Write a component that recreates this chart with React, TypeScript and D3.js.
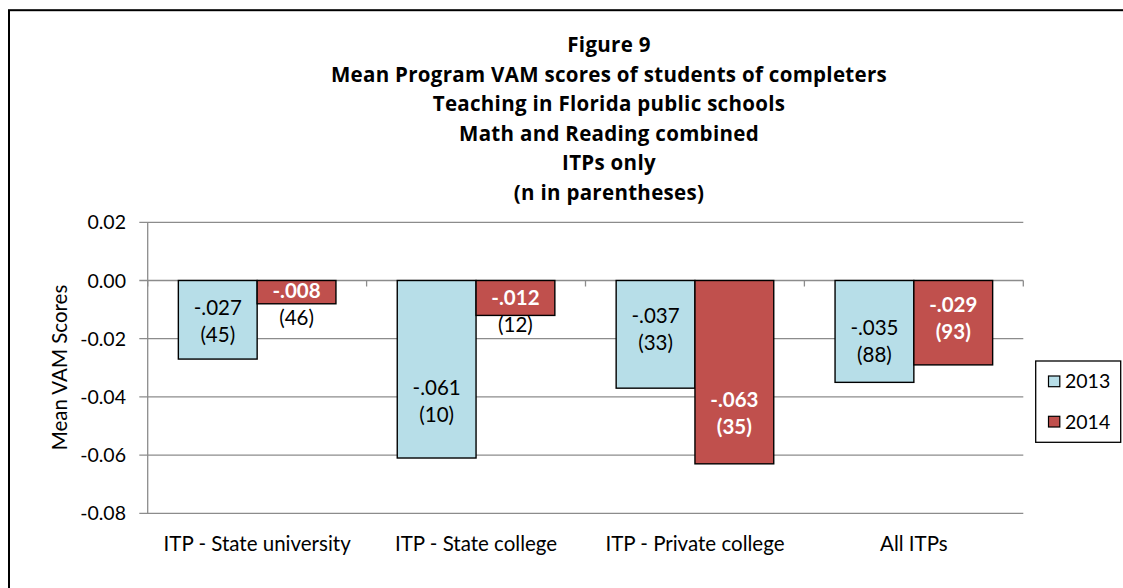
import React from "react";
import * as d3 from "d3";

const titleLines = [
  "Figure 9",
  "Mean Program VAM scores of students of completers",
  "Teaching in Florida public schools",
  "Math and Reading combined",
  "ITPs only",
  "(n in parentheses)",
];
const categories = ["ITP - State university", "ITP - State college", "ITP - Private college", "All ITPs"];
const seriesNames = ["2013", "2014"];
const values2013 = [-0.027, -0.061, -0.037, -0.035];
const values2014 = [-0.008, -0.012, -0.063, -0.029];
const n2013 = [45, 10, 33, 88];
const n2014 = [46, 12, 35, 93];
// value at which the first label line's baseline sits
const labelAt2013 = [-0.0119, -0.0393, -0.0146, -0.0187];
const labelAt2014 = [-0.006, -0.0084, -0.0434, -0.0107];
const yTicks = [0.02, 0, -0.02, -0.04, -0.06, -0.08];
const yTitle = "Mean VAM Scores";

const COLORS = ["#B7DEE8", "#C0504D"];
const FONT = "Lato, 'Open Sans', sans-serif";
const TITLE_FONT = "'Open Sans', Lato, sans-serif";

const locale = d3.formatLocale({ decimal: ".", thousands: ",", grouping: [3], currency: ["$", ""], minus: "-" });
const fmtTick = locale.format(".2f");
const fmtVal = (v: number) => locale.format(".3f")(v).replace("0.", ".");

export default function App() {
  const W = 1123, H = 588;
  const x0 = 147.7, x1 = 1023.3;
  const y = d3.scaleLinear().domain([-0.08, 0.02]).range([513.3, 222.3]);
  const xb = d3.scaleBand<string>().domain(categories).range([x0, x1]).padding(0);
  const xs = d3.scaleBand<string>().domain(seriesNames).range([0, xb.bandwidth()]).paddingInner(0).paddingOuter(0.389);
  const series = [
    { name: seriesNames[0], values: values2013, n: n2013, at: labelAt2013, color: COLORS[0] },
    { name: seriesNames[1], values: values2014, n: n2014, at: labelAt2014, color: COLORS[1] },
  ];
  const y0 = y(0);
  const boundaries = d3.range(categories.length + 1).map((i) => x0 + i * xb.step());

  return (
    <svg width={W} height={H} style={{ position: "absolute", left: 0, top: 0, background: "#fff" }} fontFamily={FONT}>
      <rect x={0} y={0} width={W} height={H} fill="#fff" />
      <rect x={9} y={10.2} width={1300} height={700} fill="none" stroke="#000" strokeWidth={2} />
      {titleLines.map((t, i) => (
        <text key={i} x={609} y={52 + i * 29.5} textAnchor="middle" fontWeight="bold" fontSize={20.5}
          letterSpacing={0.3} fontFamily={TITLE_FONT} fill="#000">
          {t}
        </text>
      ))}
      {/* gridlines */}
      {yTicks.map((t) => (
        <g key={t}>
          <line x1={139.3} x2={x1} y1={y(t)} y2={y(t)} stroke="#8c8c8c" strokeWidth={1.3} />
          <text x={126} y={y(t) + 7} textAnchor="end" fontSize={19.5} fill="#000">
            {fmtTick(t)}
          </text>
        </g>
      ))}
      <line x1={x0} x2={x0} y1={y(0.02)} y2={y(-0.08)} stroke="#8c8c8c" strokeWidth={1.3} />
      {boundaries.map((bx, i) => (
        <line key={i} x1={bx} x2={bx} y1={y0} y2={y0 + 6} stroke="#8c8c8c" strokeWidth={1.3} />
      ))}
      {/* bars */}
      {categories.map((c, ci) =>
        series.map((s) => {
          const bx = (xb(c) as number) + (xs(s.name) as number);
          const v = s.values[ci];
          return (
            <rect key={c + s.name} x={bx} y={Math.min(y(v), y0)} width={xs.bandwidth()} height={Math.abs(y(v) - y0)}
              fill={s.color} stroke="#000" strokeWidth={1.4} />
          );
        })
      )}
      {/* labels */}
      {categories.map((c, ci) =>
        series.map((s, si) => {
          const cx = (xb(c) as number) + (xs(s.name) as number) + xs.bandwidth() / 2;
          const b1 = y(s.at[ci]);
          const b2 = b1 + 27;
          const bottom = y(s.values[ci]);
          const lines = [fmtVal(s.values[ci]), `(${s.n[ci]})`];
          return lines.map((t, li) => {
            const by = li === 0 ? b1 : b2;
            const inside = by - 4 < bottom;
            const white = si === 1 && inside;
            return (
              <text key={c + s.name + li} x={cx} y={by} textAnchor="middle" fontSize={20.5}
                fill={white ? "#fff" : "#000"} fontWeight={white ? "bold" : "normal"}>
                {t}
              </text>
            );
          });
        })
      )}
      {/* x labels */}
      {categories.map((c) => (
        <text key={c} x={(xb(c) as number) + xb.bandwidth() / 2} y={550.5} textAnchor="middle" fontSize={20.5} fill="#000">
          {c}
        </text>
      ))}
      {/* y title */}
      <text transform={`translate(67,${(285 + 450) / 2}) rotate(-90)`} textAnchor="middle" fontSize={20.5} fill="#000">
        {yTitle}
      </text>
      {/* legend */}
      <rect x={1035.7} y={361} width={85} height={81.3} fill="#fff" stroke="#000" strokeWidth={1.3} />
      {series.map((s, i) => (
        <g key={s.name}>
          <rect x={1048.5} y={376 + i * 40.3} width={11.3} height={10.7} fill={s.color} stroke="#000" strokeWidth={1.2} />
          <text x={1065} y={387.7 + i * 41.3} fontSize={19.5} fill="#000">{s.name}</text>
        </g>
      ))}
    </svg>
  );
}
